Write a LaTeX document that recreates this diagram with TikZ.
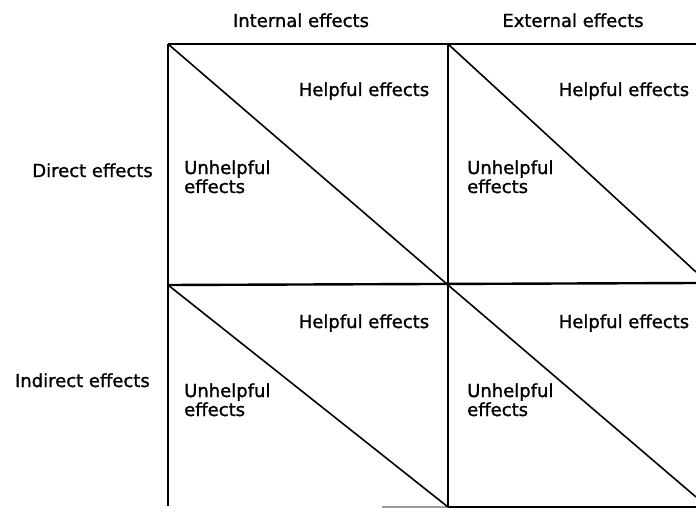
\documentclass[tikz,border=0pt]{standalone}
\usepackage{fontspec}
\setmainfont{DejaVu Sans}[FakeBold=1.2]
\usetikzlibrary{positioning}

\begin{document}
\begin{tikzpicture}[
  x=1pt, y=-1pt,
  font=\fontsize{18}{19}\selectfont,
  lbl/.style={inner sep=0pt, align=left},
  hline/.style={line width=2.4pt},
  vline/.style={line width=1.1pt},
  diag/.style={line width=1.6pt}
]
\useasboundingbox (0,0) rectangle (696,508);

\coordinate (tl) at (168,44);
\coordinate (tm) at (448,44);
\coordinate (tr) at (696,44);
\coordinate (ml) at (168,285);
\coordinate (mm) at (448,285);
\coordinate (mr) at (696,283);
\coordinate (bl) at (168,506);
\coordinate (bm) at (448,507);
\coordinate (br) at (696,507);
\coordinate (bx) at (382,507);
\coordinate (re1) at (696,272);
\coordinate (re2) at (696,497);

\node[lbl, anchor=base] (int) at (301,27) {Internal effects};
\node[lbl, anchor=base] (ext) at (573,27) {External effects};
\node[lbl, anchor=base east] (dir) at (153,177) {Direct effects};
\node[lbl, anchor=base east] (ind) at (150,387) {Indirect effects};

\node[lbl, anchor=base] (help1) at (364,96) {Helpful effects};
\node[lbl, anchor=base] (help2) at (624,96) {Helpful effects};
\node[lbl, anchor=base] (help3) at (364,328) {Helpful effects};
\node[lbl, anchor=base] (help4) at (624,328) {Helpful effects};

\node[lbl, anchor=base west] (unh1) at (184,193) {Unhelpful\\effects};
\node[lbl, anchor=base west] (unh2) at (467,193) {Unhelpful\\effects};
\node[lbl, anchor=base west] (unh3) at (184,416) {Unhelpful\\effects};
\node[lbl, anchor=base west] (unh4) at (467,416) {Unhelpful\\effects};

\draw[hline] (tl) -- (tr);
\draw[hline] (ml) -- (mr);
\draw[hline] (bm) -- (br);
\draw[vline, black!40] (bx) -- (bm);
\draw[vline] (tl) -- (bl);
\draw[vline] (tm) -- (bm);

\draw[diag] (tl) -- (mm);
\draw[diag] (tm) -- (re1);
\draw[diag] (ml) -- (bm);
\draw[diag] (mm) -- (re2);

\end{tikzpicture}
\end{document}
